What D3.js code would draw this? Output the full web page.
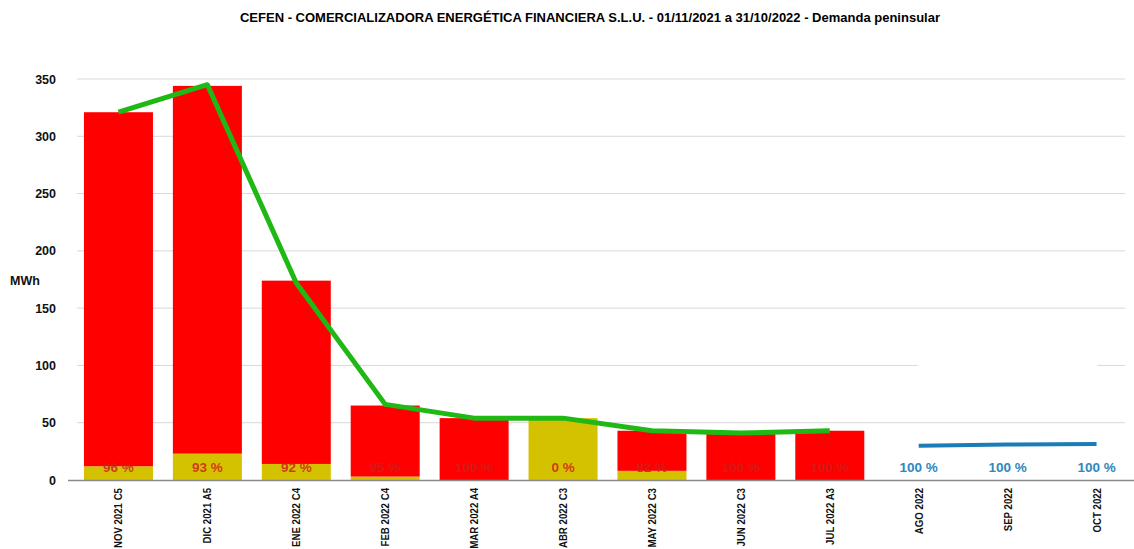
<!DOCTYPE html>
<html>
<head>
<meta charset="utf-8">
<script src="https://cdn.jsdelivr.net/npm/d3@7"></script>
<style>
  body { margin: 0; background: #fff; }
  text { font-family: "Liberation Sans Narrow", "Arial Narrow", "Liberation Sans", Arial, sans-serif; }
</style>
</head>
<body>
<svg id="chart" width="1134" height="549"></svg>
<script>
// categories
let months = ["NOV 2021 C5", "DIC 2021 A5", "ENE 2022 C4", "FEB 2022 C4", "MAR 2022 A4", "ABR 2022 C3",
              "MAY 2022 C3", "JUN 2022 C3", "JUL 2022 A3", "AGO 2022", "SEP 2022", "OCT 2022"];
// stacked bars (MWh)
let yellowVals = [12, 23, 14, 3, 0, 54, 8, 0, 0, null, null, null];
let redVals    = [309, 321, 160, 62, 54, 0, 35, 41, 43, null, null, null];
// lines
let greenVals = [321, 345, 172, 66, 54, 54, 43, 41, 43, null, null, null];
let blueVals  = [null, null, null, null, null, null, null, null, null, 30, 31, 31.5];
// labels
let pctLabels = ["96 %", "93 %", "92 %", "95 %", "100 %", "0 %", "82 %", "100 %", "100 %", "100 %", "100 %", "100 %"];
let yTicks = [0, 50, 100, 150, 200, 250, 300, 350];

let chart = d3.select("#chart");

let x = d3.scaleBand()
    .domain(months)
    .range([74, 1141])
    .paddingInner(0.224)
    .paddingOuter(0.112);

let y = d3.scaleLinear()
    .domain([0, 350])
    .range([480, 79]);

// Title
chart.append("text")
    .text("CEFEN - COMERCIALIZADORA ENERGÉTICA FINANCIERA S.L.U.  - 01/11/2021 a 31/10/2022 - Demanda peninsular")
    .attr("x", 590)
    .attr("y", 22)
    .attr("text-anchor", "middle")
    .style("font-size", "13px")
    .style("font-weight", "bold");

// grid lines
chart.selectAll(".grid")
    .data(yTicks.filter(d => d > 0))
    .enter()
    .append("line")
    .attr("x1", 77)
    .attr("x2", 1125)
    .attr("y1", d => y(d))
    .attr("y2", d => y(d))
    .attr("stroke", "#d9d9d9")
    .attr("stroke-width", 1);

// white box hiding part of the grid (as in the original)
chart.append("rect")
    .attr("x", x("AGO 2022") + x.bandwidth() / 2 - 1)
    .attr("width", x("OCT 2022") - x("AGO 2022") + 2)
    .attr("y", y(125))
    .attr("height", y(80) - y(125))
    .attr("fill", "#fff");

// y axis
let yAxis = d3.axisLeft(y).tickValues(yTicks).tickSize(0).tickPadding(0);
let yAxisGroup = chart.append("g")
    .attr("transform", "translate(56,0)")
    .call(yAxis);
yAxisGroup.select(".domain").remove();
yAxisGroup.selectAll("text")
    .style("font-size", "12.5px")
    .style("font-weight", "bold")
    .attr("fill", "#111")
    .attr("font-family", null);

chart.append("text")
    .text("MWh")
    .attr("x", 10)
    .attr("y", 285)
    .style("font-size", "12.5px")
    .style("font-weight", "bold")
    .attr("fill", "#111");

// bars
let yellowColor = "#d4c100";
let redColor = "#ff0000";

chart.selectAll(".ybar")
    .data(months.map((m, i) => ({m: m, v: yellowVals[i]})).filter(d => d.v))
    .enter()
    .append("rect")
    .attr("x", d => x(d.m))
    .attr("width", x.bandwidth())
    .attr("y", d => y(d.v))
    .attr("height", d => y(0) - y(d.v))
    .attr("fill", yellowColor);

chart.selectAll(".rbar")
    .data(months.map((m, i) => ({m: m, base: yellowVals[i] || 0, v: redVals[i]})).filter(d => d.v))
    .enter()
    .append("rect")
    .attr("x", d => x(d.m))
    .attr("width", x.bandwidth())
    .attr("y", d => y(d.base + d.v))
    .attr("height", d => y(d.base) - y(d.base + d.v))
    .attr("fill", redColor);

// x axis
let xAxis = d3.axisBottom(x).tickSize(0).tickPadding(0);
let xAxisGroup = chart.append("g")
    .attr("transform", "translate(0,480)")
    .call(xAxis);
xAxisGroup.select(".domain")
    .attr("d", "M68,0.5H1134")
    .attr("stroke", "#8a8a8a")
    .attr("stroke-width", 1.5);
xAxisGroup.selectAll("text")
    .attr("font-family", null)
    .style("font-size", "11.5px")
    .style("font-weight", "bold")
    .attr("fill", "#111")
    .attr("text-anchor", "end")
    .attr("dy", null)
    .attr("y", 0)
    .attr("transform", "translate(4,8) rotate(-90) scale(0.84,1)");

// green line
let line = d3.line()
    .defined(d => d.v != null)
    .x(d => x(d.m) + x.bandwidth() / 2)
    .y(d => y(d.v));

chart.append("path")
    .datum(months.map((m, i) => ({m: m, v: greenVals[i]})))
    .attr("d", line)
    .attr("fill", "none")
    .attr("stroke", "#1fb814")
    .attr("stroke-width", 5)
    .attr("stroke-linejoin", "round");

chart.append("path")
    .datum(months.map((m, i) => ({m: m, v: blueVals[i]})))
    .attr("d", line)
    .attr("fill", "none")
    .attr("stroke", "#1a7db5")
    .attr("stroke-width", 4);

// percent labels
chart.selectAll(".pct")
    .data(months.map((m, i) => ({m: m, t: pctLabels[i], blue: blueVals[i] != null})))
    .enter()
    .append("text")
    .text(d => d.t)
    .attr("x", d => x(d.m) + x.bandwidth() / 2)
    .attr("y", 472)
    .attr("text-anchor", "middle")
    .style("font-size", "13.5px")
    .style("font-weight", "bold")
    .attr("fill", d => d.blue ? "#2f88bd" : "#cf1f1a")
    .attr("fill-opacity", d => d.blue ? 1 : 0.85);
</script>
</body>
</html>
